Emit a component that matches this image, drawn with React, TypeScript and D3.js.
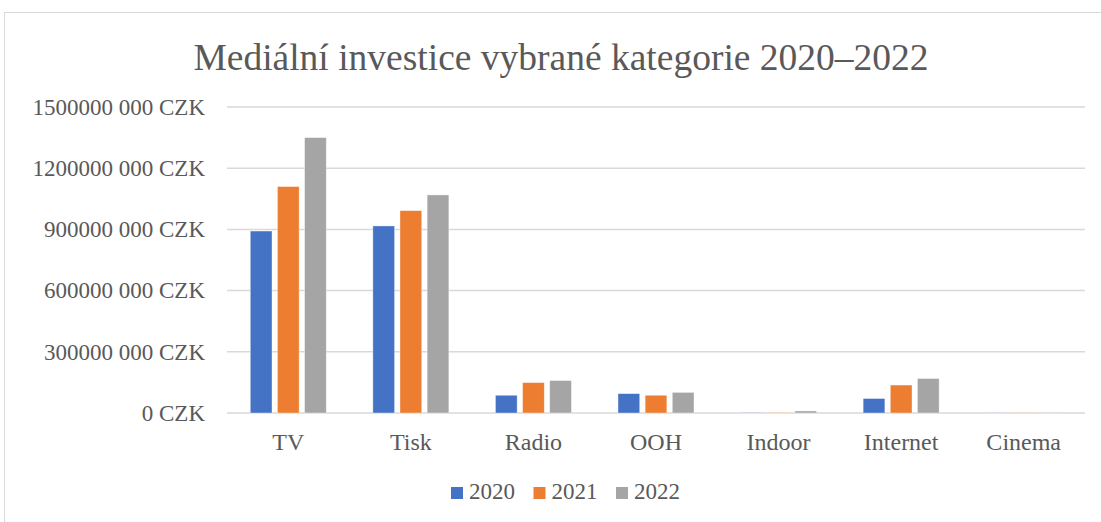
import * as d3 from "d3"

const categories = ["TV", "Tisk", "Radio", "OOH", "Indoor", "Internet", "Cinema"]
const years = ["2020", "2021", "2022"]
// values in millions CZK
const values2020 = [892, 917, 87, 95, 1, 71, 0.5]
const values2021 = [1110, 992, 149, 87, 1.5, 137, 0.8]
const values2022 = [1350, 1069, 159, 101, 10, 169, 1]
const yTicks = [0, 300, 600, 900, 1200, 1500]
const colors = ["#4472C4", "#ED7D31", "#A5A5A5"]

const W = 1101
const H = 522
const font = "'Liberation Serif', 'Times New Roman', serif"
const textColor = "#595959"

export default function App() {
  const series = [values2020, values2021, values2022]

  const x = d3
    .scaleBand<string>()
    .domain(categories)
    .range([227, 1085])
    .paddingInner(0.38)
    .paddingOuter(0.19)

  const xInner = d3
    .scaleBand<string>()
    .domain(years)
    .range([0, x.bandwidth()])
    .paddingInner(0.2)

  const y = d3.scaleLinear().domain([0, 1500]).range([413, 107])

  const fmt = (v: number) => (v === 0 ? "0 CZK" : `${v * 1000} 000 CZK`)

  const legendStart = 451
  const legendStep = 82.5

  return (
    <svg
      width={W}
      height={H}
      style={{ position: "absolute", left: 0, top: 0, background: "#fff" }}
      fontFamily={font}
    >
      <rect x={4.5} y={12.5} width={W + 20} height={H + 20} fill="#fff" stroke="#D9D9D9" />

      <text x={561} y={70} textAnchor="middle" fontSize={37.5} fill={textColor}>
        Mediální investice vybrané kategorie 2020–2022
      </text>

      {yTicks.map((t) => (
        <g key={t}>
          <line x1={227} x2={1085} y1={y(t)} y2={y(t)} stroke="#D9D9D9" strokeWidth={1.5} />
          <text x={205} y={y(t)} dy="0.34em" textAnchor="end" fontSize={23} fill={textColor}>
            {fmt(t)}
          </text>
        </g>
      ))}

      {categories.map((c, i) => (
        <g key={c} transform={`translate(${x(c)},0)`}>
          {years.map((yr, j) => {
            const v = series[j][i]
            return (
              <rect
                key={yr}
                x={xInner(yr)}
                y={y(v)}
                width={xInner.bandwidth()}
                height={y(0) - y(v)}
                fill={colors[j]}
                stroke="#fff"
                strokeOpacity={0.5}
                strokeWidth={0.75}
              />
            )
          })}
          <text
            x={x.bandwidth() / 2}
            y={450}
            textAnchor="middle"
            fontSize={24}
            fill={textColor}
          >
            {c}
          </text>
        </g>
      ))}

      {years.map((yr, j) => (
        <g key={yr} transform={`translate(${legendStart + j * legendStep},0)`}>
          <rect x={0} y={487} width={12} height={12} fill={colors[j]} />
          <text x={18} y={499} fontSize={23} fill={textColor}>
            {yr}
          </text>
        </g>
      ))}
    </svg>
  )
}
